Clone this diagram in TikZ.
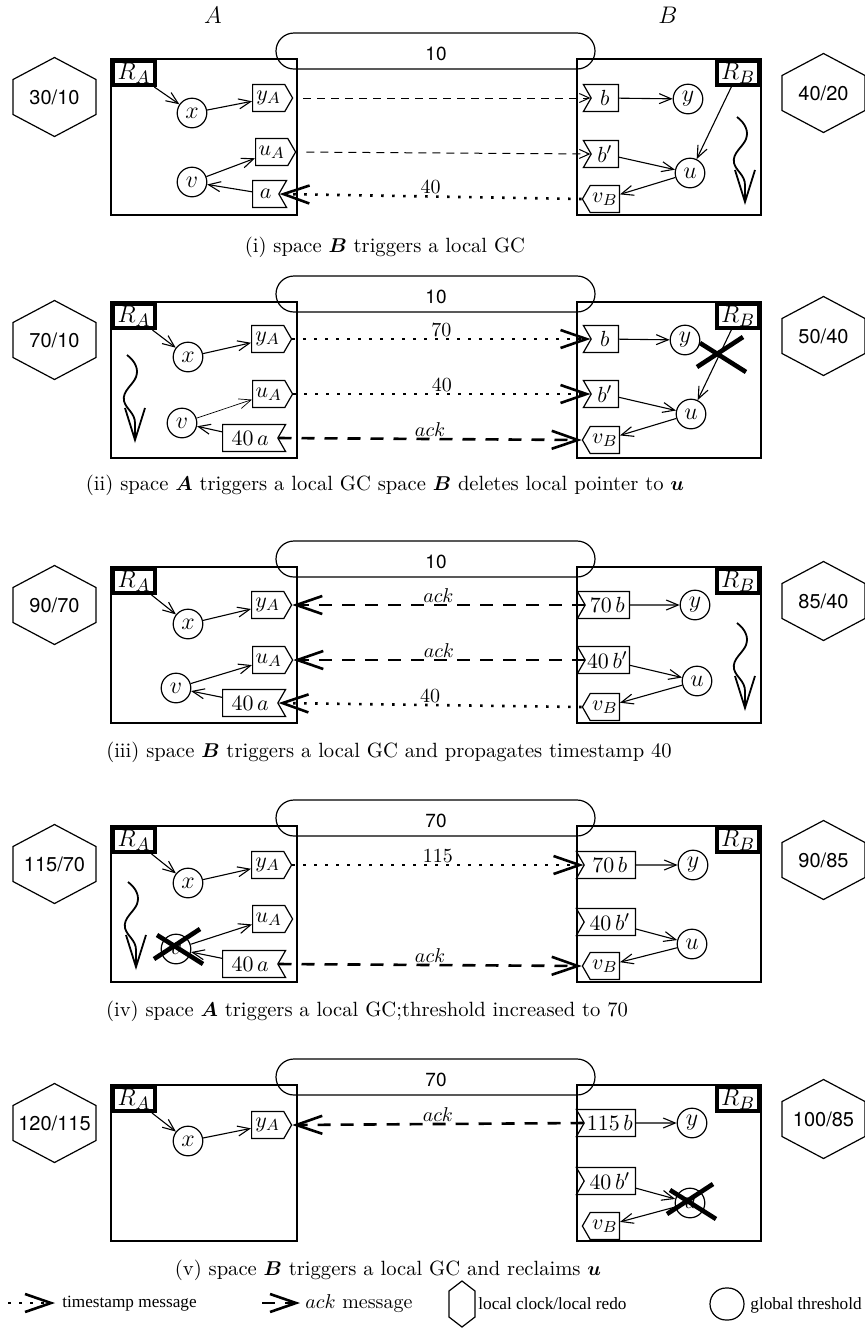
\documentclass[tikz,border=0pt]{standalone}
\usepackage{fontspec}
\usepackage{bm}
\usetikzlibrary{arrows.meta,shapes.symbols}
\newfontfamily\hvfont{TeX Gyre Heros}
\newfontfamily\tmfont{Liberation Serif}
\newcommand{\hexat}[2]{\draw[hexline] (#1,#2) ++(0,-39.5) -- ++(41.5,22) -- ++(0,35) -- ++(-41.5,22) -- ++(-41.5,-22) -- ++(0,-35) -- cycle;}
\newcommand{\squig}[2]{\begin{scope}[shift={(#1,#2)}]\draw[squigline] (0,0) .. controls (8,6) and (12,14) .. (9,22) .. controls (6,30) and (-5,36) .. (-3,46) .. controls (-1,54) and (8,58) .. (8,68) -- (8,88);\end{scope}}
\newcommand{\bigx}[2]{\begin{scope}[shift={(#1,#2)}]\draw[crossline] (-24,12) -- (22,-18); \draw[crossline] (-21,-12) -- (25,17);\end{scope}}
\begin{document}
\begin{tikzpicture}[x=0.5pt,y=-0.5pt,
  every node/.style={inner sep=0pt},
  spacebox/.style={draw, line width=0.7pt, minimum width=93pt, minimum height=78pt},
  root/.style={draw, line width=2.2pt, minimum width=20.8pt, minimum height=11.8pt, font=\fontsize{13}{13}\selectfont},
  obj/.style={circle, draw, line width=0.6pt, minimum size=14.8pt, font=\fontsize{13}{13}\selectfont},
  sig/.style={signal, draw, line width=0.6pt, signal pointer angle=120, minimum height=13.5pt, font=\fontsize{11}{11}\selectfont},
  toE/.style={sig, signal to=east, anchor=west, minimum width=20pt},
  toW/.style={sig, signal to=west, anchor=east, minimum width=18.5pt},
  notchE/.style={sig, signal to=nowhere, signal from=east, anchor=west, minimum width=17pt},
  notchW/.style={sig, signal to=nowhere, signal from=west, anchor=east, minimum width=17.5pt},
  pill/.style={draw, line width=0.6pt, rounded corners=9pt, minimum width=159.5pt, minimum height=18pt},
  thr/.style={font=\hvfont\fontsize{9.5}{9.5}\selectfont},
  hexnum/.style={font=\hvfont\fontsize{10}{10}\selectfont},
  hexline/.style={line width=0.6pt},
  ptr/.style={line width=0.55pt, -{Straight Barb[length=6pt,width=5pt]}},
  thinmsg/.style={line width=0.5pt, dash pattern=on 4pt off 3pt, -{Straight Barb[length=5pt,width=4.5pt]}},
  tsmsg/.style={line width=1.3pt, dash pattern=on 1.3pt off 4.2pt, -{Straight Barb[length=13pt,width=9pt]}},
  ackmsg/.style={line width=1.3pt, dash pattern=on 6.5pt off 5pt, -{Straight Barb[length=13pt,width=9pt]}},
  msglab/.style={midway, anchor=base, yshift=1.5pt, font=\fontsize{10}{10}\selectfont},
  squigline/.style={line width=0.9pt, -{Straight Barb[length=16pt,width=10pt]}},
  crossline/.style={line width=2.3pt},
  captext/.style={font=\fontsize{10.3}{12}\selectfont},
  legtext/.style={font=\tmfont\fontsize{8.6}{9}\selectfont},
  head/.style={font=\fontsize{13}{13}\selectfont}
]
\useasboundingbox (0,0) rectangle (865,1329);

\node[head] (hA) at (213,15) {$A$};
\node[head] (hB) at (668,15) {$B$};

% ---------------- panel (i)
\begin{scope}[shift={(0,59)}]
\node[pill] (g1) at (435.5,-8) {};
\node[thr] (t1) at (436,-5) {10};
\node[spacebox] (SA1) at (204,78) {};
\node[spacebox, minimum width=92pt] (SB1) at (669,78) {};
\node[root] (RA1) at (134,14) {$R_A$};
\node[root] (RB1) at (738,14) {$R_B$};
\hexat{54.5}{38}\node[hexnum] (cA1) at (54.5,38) {30/10};
\hexat{823.5}{34}\node[hexnum] (cB1) at (823.5,34) {40/20};
\node[obj] (x1) at (192,54) {$x$};
\node[toE] (yA1) at (252,39) {$y_A$};
\node[obj] (v1) at (192,123) {$v$};
\node[toE] (uA1) at (255,93) {$u_A$};
\node[notchE] (a1) at (252,135) {$a$};
\node[notchW] (b1) at (619,39) {$b$};
\node[obj] (y1) at (688,40) {$y$};
\node[notchW] (bp1) at (619,95) {$b'$};
\node[obj] (u1) at (690,114) {$u$};
\node[toW] (vB1) at (620,140) {$v_B$};
\draw[ptr] (RA1) -- (x1);
\draw[ptr] (x1) -- (yA1);
\draw[ptr] (v1) -- (uA1);
\draw[ptr] (a1) -- (v1);
\draw[ptr] (b1) -- (y1);
\draw[ptr] (bp1) -- (u1);
\draw[ptr] (RB1) -- (u1);
\draw[ptr] (u1) -- (vB1);
\draw[thinmsg, shorten <=5pt] (yA1.east) -- (b1.west);
\draw[thinmsg, shorten <=5pt] (uA1.east) -- (bp1.west);
\draw[tsmsg] (vB1.west) -- node[msglab] {40} (a1.east);
\squig{737}{58}
\end{scope}
\node[captext] (c1) at (385,247) {(i) space $\bm{B}$ triggers a local GC};

% ---------------- panel (ii)
\begin{scope}[shift={(0,302)}]
\node[pill] (g2) at (435.5,-8) {};
\node[thr] (t2) at (436,-5) {10};
\node[spacebox] (SA2) at (204,78) {};
\node[spacebox, minimum width=92pt] (SB2) at (669,78) {};
\node[root] (RA2) at (134,14) {$R_A$};
\node[root] (RB2) at (738,14) {$R_B$};
\hexat{54.5}{38}\node[hexnum] (cA2) at (54.5,38) {70/10};
\hexat{823.5}{34}\node[hexnum] (cB2) at (823.5,34) {50/40};
\node[obj] (x2) at (188,55) {$x$};
\node[toE] (yA2) at (251,37) {$y_A$};
\node[obj] (v2) at (182,121) {$v$};
\node[toE] (uA2) at (252,92) {$u_A$};
\node[notchE, minimum width=31.5pt] (a2) at (222,136) {$40\,a$};
\node[notchW] (b2) at (619,37) {$b$};
\node[obj] (y2) at (685,38) {$y$};
\node[notchW] (bp2) at (619,92) {$b'$};
\node[obj] (u2) at (691,112) {$u$};
\node[toW] (vB2) at (620,138) {$v_B$};
\draw[ptr] (RA2) -- (x2);
\draw[ptr] (x2) -- (yA2);
\draw[ptr, line width=0.35pt] (v2) -- (uA2);
\draw[ptr] (a2) -- (v2);
\draw[ptr] (b2) -- (y2);
\draw[ptr] (bp2) -- (u2);
\draw[ptr] (RB2) -- (u2);
\draw[ptr] (u2) -- (vB2);
\draw[tsmsg] (yA2.east) -- node[msglab] {70} (b2.west);
\draw[tsmsg] (uA2.east) -- node[msglab] {40} (bp2.west);
\draw[ackmsg] (a2.east) -- node[msglab] {$ack$} (vB2.west);
\squig{127}{53}
\bigx{721}{53}
\end{scope}
\node[captext] (c2) at (385,485) {(ii) space $\bm{A}$ triggers a local GC space $\bm{B}$ deletes local pointer to $\bm{u}$};

% ---------------- panel (iii)
\begin{scope}[shift={(0,567)}]
\node[pill] (g3) at (435.5,-8) {};
\node[thr] (t3) at (436,-5) {10};
\node[spacebox] (SA3) at (204,78) {};
\node[spacebox, minimum width=92pt] (SB3) at (669,78) {};
\node[root] (RA3) at (134,14) {$R_A$};
\node[root] (RB3) at (738,14) {$R_B$};
\hexat{54.5}{38}\node[hexnum] (cA3) at (54.5,38) {90/70};
\hexat{823.5}{34}\node[hexnum] (cB3) at (823.5,34) {85/40};
\node[obj] (x3) at (188,57) {$x$};
\node[toE] (yA3) at (251,38) {$y_A$};
\node[obj] (v3) at (176,121) {$v$};
\node[toE] (uA3) at (252,93) {$u_A$};
\node[notchE, minimum width=31.5pt] (a3) at (222,136) {$40\,a$};
\node[notchW, minimum width=26pt] (b3) at (630,38) {$70\,b$};
\node[obj] (y3) at (695,38) {$y$};
\node[notchW, minimum width=26pt] (bp3) at (630,93) {$40\,b'$};
\node[obj] (u3) at (697,114) {$u$};
\node[toW] (vB3) at (620,140) {$v_B$};
\draw[ptr] (RA3) -- (x3);
\draw[ptr] (x3) -- (yA3);
\draw[ptr] (v3) -- (uA3);
\draw[ptr] (a3) -- (v3);
\draw[ptr] (b3) -- (y3);
\draw[ptr] (bp3) -- (u3);
\draw[ptr] (u3) -- (vB3);
\draw[ackmsg] (b3.west) -- node[msglab] {$ack$} (yA3.east);
\draw[ackmsg] (bp3.west) -- node[msglab] {$ack$} (uA3.east);
\draw[tsmsg] (vB3.west) -- node[msglab] {40} (a3.east);
\squig{737}{56}
\end{scope}
\node[captext] (c3) at (389,752) {(iii) space $\bm{B}$ triggers a local GC and propagates timestamp 40};

% ---------------- panel (iv)
\begin{scope}[shift={(0,826)}]
\node[pill] (g4) at (435.5,-8) {};
\node[thr] (t4) at (436,-5) {70};
\node[spacebox] (SA4) at (204,78) {};
\node[spacebox, minimum width=92pt] (SB4) at (669,78) {};
\node[root] (RA4) at (134,14) {$R_A$};
\node[root] (RB4) at (738,14) {$R_B$};
\hexat{54.5}{38}\node[hexnum] (cA4) at (54.5,38) {115/70};
\hexat{823.5}{34}\node[hexnum] (cB4) at (823.5,34) {90/85};
\node[obj] (x4) at (188,57) {$x$};
\node[toE] (yA4) at (251,39) {$y_A$};
\node[obj] (v4) at (176,123) {$v$};
\node[toE] (uA4) at (252,93) {$u_A$};
\node[notchE, minimum width=31.5pt] (a4) at (222,138) {$40\,a$};
\node[notchW, minimum width=29.5pt] (b4) at (636,39) {$70\,b$};
\node[obj] (y4) at (693,39) {$y$};
\node[notchW, minimum width=29.5pt] (bp4) at (636,96) {$40\,b'$};
\node[obj] (u4) at (692,118) {$u$};
\node[toW] (vB4) at (620,140) {$v_B$};
\draw[ptr] (RA4) -- (x4);
\draw[ptr] (x4) -- (yA4);
\draw[ptr] (v4) -- (uA4);
\draw[ptr] (a4) -- (v4);
\draw[ptr] (b4) -- (y4);
\draw[ptr] (bp4) -- (u4);
\draw[ptr] (u4) -- (vB4);
\draw[tsmsg] (yA4.east) -- node[msglab] {115} (b4.west);
\draw[ackmsg] (a4.east) -- node[msglab] {$ack$} (vB4.west);
\squig{128}{56}
\bigx{178}{121}
\end{scope}
\node[captext] (c4) at (367,1011) {(iv) space $\bm{A}$ triggers a local GC;threshold increased to 70};

% ---------------- panel (v)
\begin{scope}[shift={(0,1085)}]
\node[pill] (g5) at (435.5,-8) {};
\node[thr] (t5) at (436,-5) {70};
\node[spacebox] (SA5) at (204,78) {};
\node[spacebox, minimum width=92pt] (SB5) at (669,78) {};
\node[root] (RA5) at (134,14) {$R_A$};
\node[root] (RB5) at (738,14) {$R_B$};
\hexat{54.5}{38}\node[hexnum] (cA5) at (54.5,38) {120/115};
\hexat{823.5}{34}\node[hexnum] (cB5) at (823.5,34) {100/85};
\node[obj] (x5) at (188,56) {$x$};
\node[toE] (yA5) at (251,40) {$y_A$};
\node[notchW, minimum width=29.5pt] (b5) at (636,38) {$115\,b$};
\node[obj] (y5) at (692,38) {$y$};
\node[notchW, minimum width=29.5pt] (bp5) at (636,96) {$40\,b'$};
\node[obj] (u5) at (690,118) {$u$};
\node[toW] (vB5) at (620,141) {$v_B$};
\draw[ptr] (RA5) -- (x5);
\draw[ptr] (x5) -- (yA5);
\draw[ptr] (b5) -- (y5);
\draw[ptr] (bp5) -- (u5);
\draw[ptr] (u5) -- (vB5);
\draw[ackmsg] (b5.west) -- node[msglab] {$ack$} (yA5.east);
\bigx{691}{117}
\end{scope}
\node[captext] (c5) at (388,1270) {(v) space $\bm{B}$ triggers a local GC and reclaims $\bm{u}$};

% ---------------- legend
\coordinate (l1s) at (8,1303);
\coordinate (l1e) at (55,1303);
\draw[tsmsg] (l1s) -- (l1e);
\node[legtext, anchor=west] (l1t) at (62,1304) {timestamp message};
\coordinate (l2s) at (262,1303);
\coordinate (l2e) at (300,1303);
\draw[ackmsg] (l2s) -- (l2e);
\node[anchor=west, font=\fontsize{10}{10}\selectfont] (l2t) at (305,1304) {$ack$ message};
\draw[hexline] (462,1281) -- (475,1291) -- (475,1317) -- (462,1327) -- (449,1317) -- (449,1291) -- cycle;
\node[legtext, anchor=west] (l3t) at (478,1304) {local clock/local redo};
\draw[hexline, rounded corners=8pt] (710,1288) rectangle (744,1320);
\node[legtext, anchor=west] (l4t) at (750,1305) {global threshold};
\end{tikzpicture}
\end{document}
